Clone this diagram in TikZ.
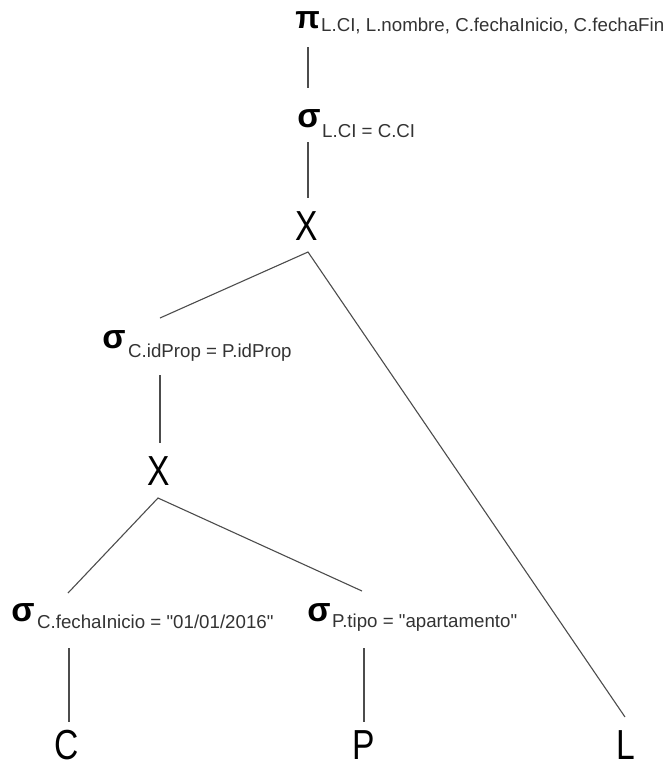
\documentclass[tikz,border=0pt]{standalone}
\usepackage{fontspec}
\setmainfont{Liberation Sans}
\newcommand\sq{\XeTeXglyph\XeTeXcharglyph"22\relax}
\begin{document}
\begin{tikzpicture}[x=1pt,y=-1pt,
  greek/.style={inner sep=0pt, anchor=base, font=\fontsize{34}{34}\selectfont\bfseries},
  pigreek/.style={greek, font=\fontsize{32}{32}\selectfont\bfseries},
  sub/.style={inner sep=0pt, anchor=base west, font=\fontsize{18.7}{20}\selectfont, text=black!80},
  big/.style={inner sep=0pt, anchor=base, font=\fontsize{42}{42}\selectfont},
  edge/.style={draw=black!70, line width=1.1pt}]
\useasboundingbox (0,0) rectangle (671,769);
% texts
\node[pigreek] (pi) at (307.5,28) {π};
\node[sub] (pisub) at (321,31) {L.CI, L.nombre, C.fechaInicio, C.fechaFin};
\node[greek] (s1) at (309,127) {σ};
\node[sub] (s1sub) at (322,137) {L.CI = C.CI};
\node[big] (x1) at (307,240) {\scalebox{0.8}[1]{X}};
\node[greek] (s2) at (114,348) {σ};
\node[sub] (s2sub) at (128,357) {C.idProp = P.idProp};
\node[big] (x2) at (159,485) {\scalebox{0.8}[1]{X}};
\node[greek] (s3) at (23,621) {σ};
\node[sub] (s3sub) at (37,628) {C.fechaInicio = \sq01/01/2016\sq};
\node[greek] (s4) at (319,621) {σ};
\node[sub] (s4sub) at (332,627) {P.tipo = \sq apartamento\sq};
\node[big] (c) at (67,759) {\scalebox{0.8}[1]{C}};
\node[big] (p) at (364,759) {\scalebox{0.8}[1]{P}};
\node[big] (l) at (626,759) {\scalebox{0.8}[1]{L}};
% connector ends
\coordinate (piB) at (308,47);
\coordinate (s1T) at (308,88);
\coordinate (s1B) at (308,142);
\coordinate (x1T) at (308,198);
\coordinate (x1B) at (308,252);
\coordinate (s2T) at (160,318);
\coordinate (lT) at (625,717);
\coordinate (s2B) at (160,375);
\coordinate (x2T) at (160,443);
\coordinate (x2B) at (158,498);
\coordinate (s3T) at (68,593);
\coordinate (s4T) at (362,591);
\coordinate (s3B) at (69,648);
\coordinate (cT) at (69,722);
\coordinate (s4B) at (364,648);
\coordinate (pT) at (364,722);
% connectors
\draw[edge] (piB) -- (s1T);
\draw[edge] (s1B) -- (x1T);
\draw[edge] (s2T) -- (x1B) -- (lT);
\draw[edge] (s2B) -- (x2T);
\draw[edge] (s3T) -- (x2B) -- (s4T);
\draw[edge] (s3B) -- (cT);
\draw[edge] (s4B) -- (pT);
\end{tikzpicture}
\end{document}
